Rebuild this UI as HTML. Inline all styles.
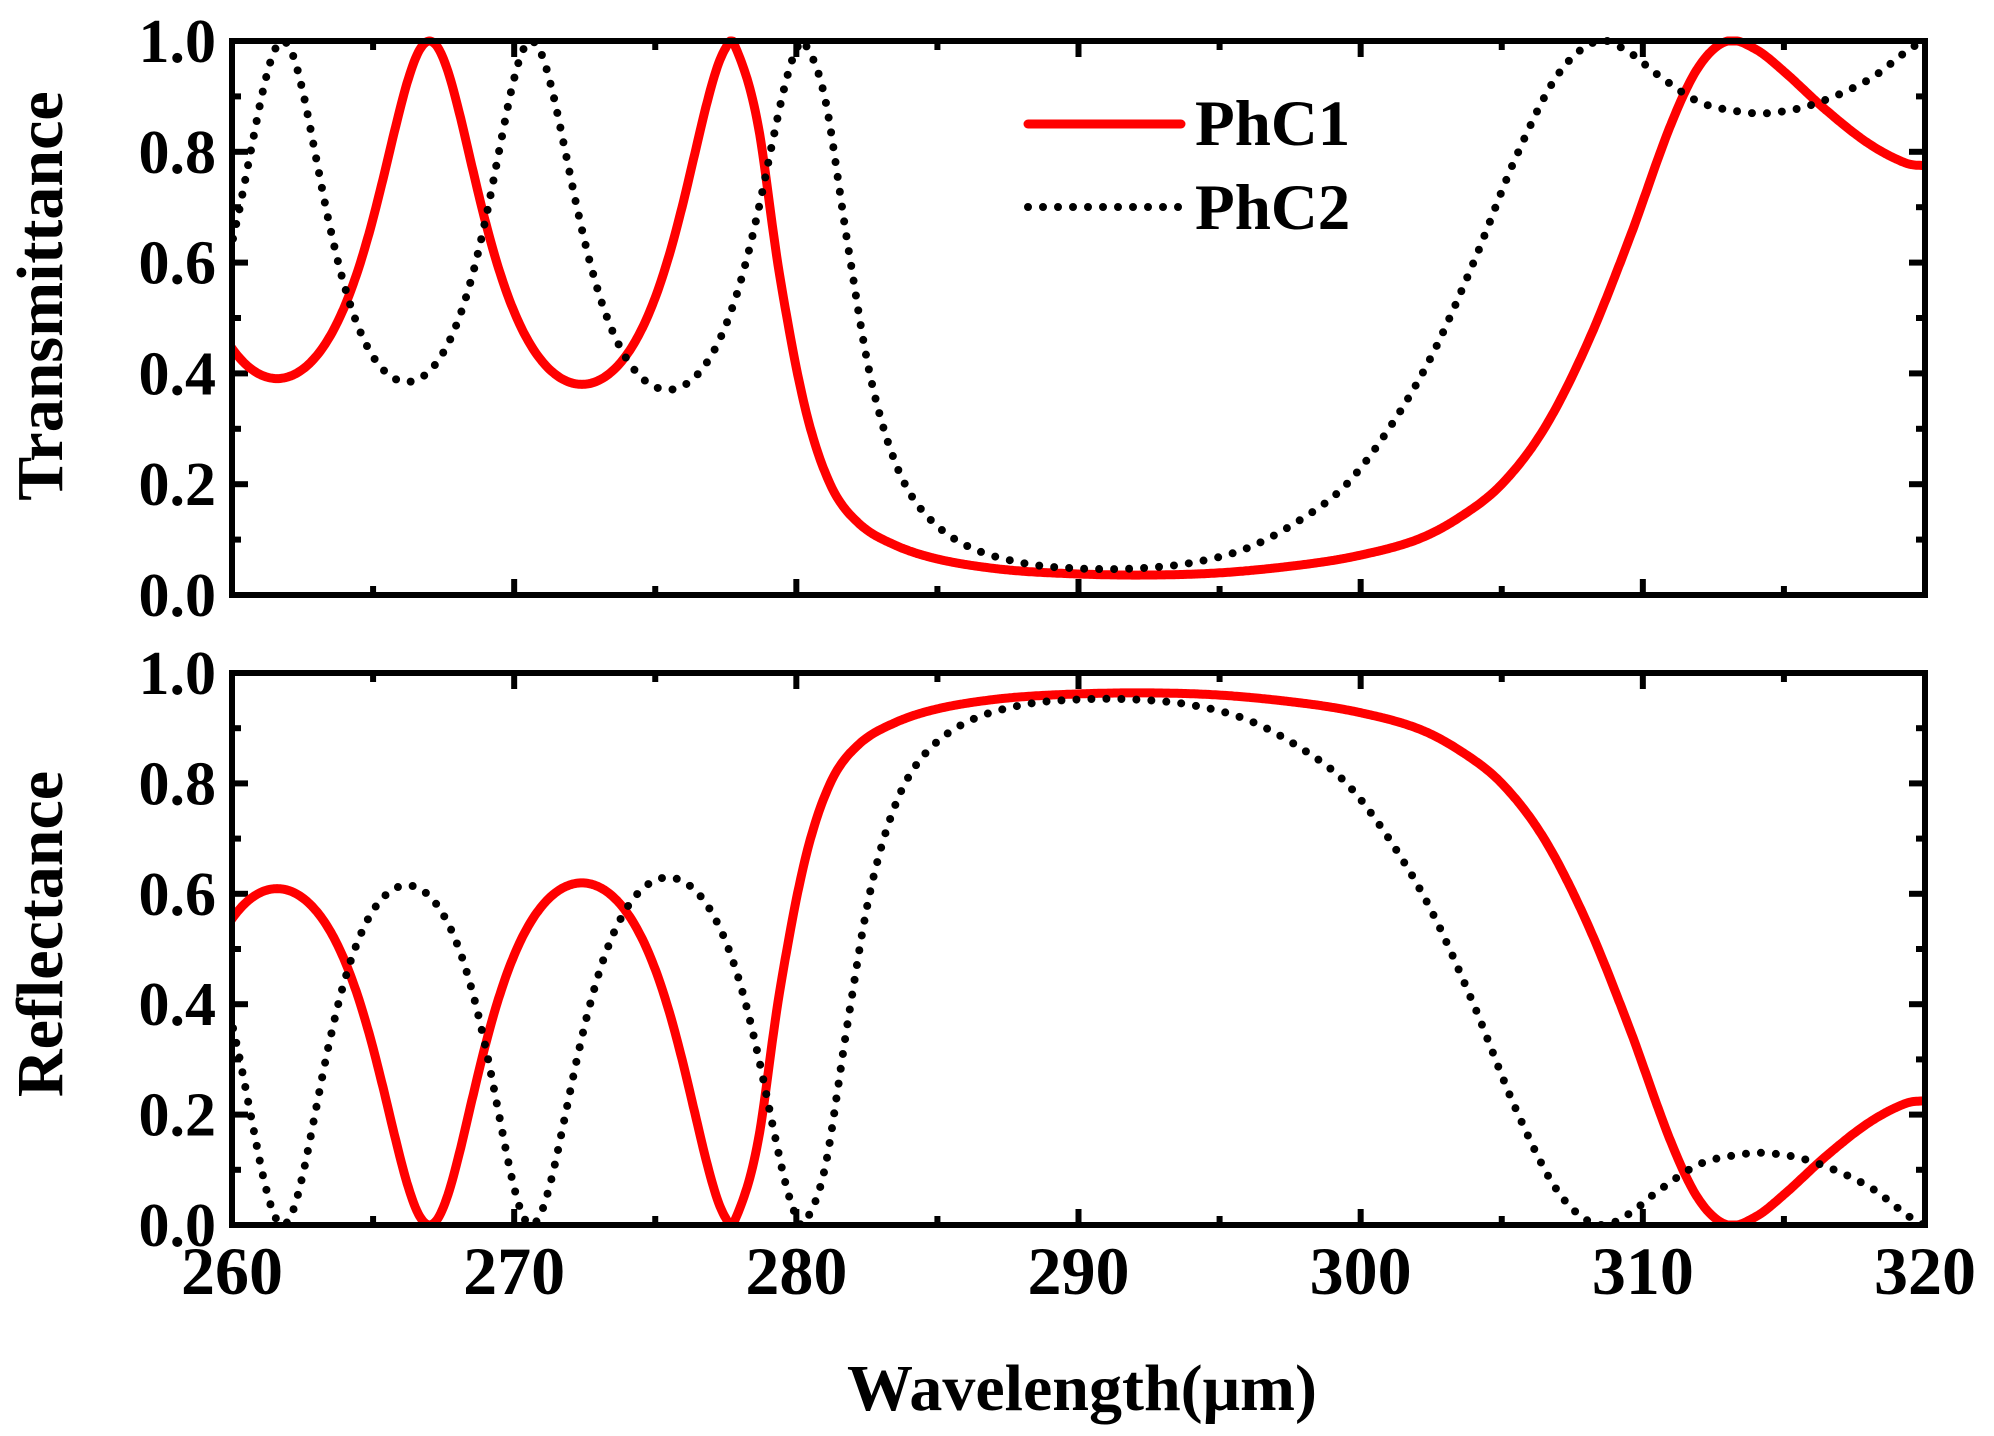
<!DOCTYPE html>
<html><head><meta charset="utf-8"><style>
html,body{margin:0;padding:0;background:#fff;}
svg{display:block;}
text{font-family:"Liberation Serif",serif;font-weight:bold;fill:#000;}
</style></head><body>
<svg id="s" width="1994" height="1436" viewBox="0 0 1994 1436" xmlns="http://www.w3.org/2000/svg">
<defs>
<clipPath id="c1"><rect x="232" y="30" width="1693" height="565"/></clipPath>
<clipPath id="c2"><rect x="232" y="662" width="1693" height="563"/></clipPath>
</defs>
<g id="g"></g>
<text x="1082" y="1410" font-size="66" text-anchor="middle">Wavelength(μm)</text>
<text transform="translate(62,296) rotate(-90)" font-size="66" text-anchor="middle">Transmittance</text>
<text transform="translate(62,934) rotate(-90)" font-size="66" text-anchor="middle">Reflectance</text>
<line x1="1028" y1="124" x2="1181" y2="124" stroke="#ff0000" stroke-width="9" stroke-linecap="round"/>
<line x1="1028" y1="207" x2="1181" y2="207" stroke="#000" stroke-width="8" stroke-linecap="round" stroke-dasharray="0 15"/>
<text x="1195" y="145" font-size="65">PhC1</text>
<text x="1195" y="229" font-size="65">PhC2</text>
</svg>
<script>
const X0=232,X1=1925;
const P=[{t:41,b:595,c:'c1'},{t:673,b:1225,c:'c2'}];
const xs=w=>X0+(w-260)/60*(X1-X0);
function airyPts(peaks,Fs,rest){
 const pts=[];const last=peaks[peaks.length-1];
 for(let w=257;w<=last+0.001;w+=0.25){
  let i=0;while(i<peaks.length-2&&w>peaks[i+1])i++;
  const a=peaks[i],b=peaks[i+1];const ph=Math.PI*(i+(w-a)/(b-a));
  const F=Fs[Math.min(i,Fs.length-1)];
  const s=Math.sin(ph);pts.push([w,1/(1+F*s*s)]);}
 return pts.concat(rest);
}
const T1=airyPts([256.2,267,277.8],[1.56,1.63],[[278.6,0.86],[279.4,0.58],[280.3,0.34],[281.2,0.2],[282.2,0.13],[283.5,0.09],[285,0.065],[287,0.048],[289,0.04],[292,0.036],[295,0.04],[298,0.055],[300,0.072],[302,0.1],[303.5,0.14],[305,0.2],[306.5,0.3],[308,0.45],[309.5,0.64],[311,0.85],[312,0.955],[313,1.0],[314,0.985],[315,0.945],[316.5,0.875],[318,0.815],[319.3,0.78],[320,0.775],[322,0.77]]);
const T2=airyPts([253,261.8,270.6,280.3],[1.6,1.6,1.7],[[281,0.9],[281.8,0.64],[282.6,0.4],[283.5,0.24],[284.5,0.15],[286,0.09],[288,0.058],[290,0.048],[292,0.048],[294,0.058],[296,0.085],[298,0.14],[299.5,0.2],[301,0.3],[302.5,0.43],[304,0.6],[305.5,0.79],[307,0.94],[308.4,1.0],[309.5,0.98],[310.5,0.94],[312,0.89],[313.5,0.872],[314.5,0.87],[316,0.885],[318,0.93],[320,1.0],[322,1.0]]);
function interp(pts,w){for(let i=1;i<pts.length-2;i++){if(w<=pts[i+1][0]){const p0=pts[i-1],p1=pts[i],p2=pts[i+1],p3=pts[i+2];const t=(w-p1[0])/(p2[0]-p1[0]);
const h=p2[0]-p1[0];const m1=(p2[1]-p0[1])/(p2[0]-p0[0])*h,m2=(p3[1]-p1[1])/(p3[0]-p1[0])*h;
const t2=t*t,t3=t2*t;let v=(2*t3-3*t2+1)*p1[1]+(t3-2*t2+t)*m1+(-2*t3+3*t2)*p2[1]+(t3-t2)*m2;return Math.max(0,Math.min(1,v));}}return pts[pts.length-2][1];}
let h='';
P.forEach((p,k)=>{
 const ys=v=>p.b-v*(p.b-p.t);
 for(let w=260;w<=320;w+=5){const x=xs(w),L=(w%10==0)?16:9;h+=`<line x1="${x}" y1="${p.b}" x2="${x}" y2="${p.b-L}" stroke="#000" stroke-width="6"/><line x1="${x}" y1="${p.t}" x2="${x}" y2="${p.t+L}" stroke="#000" stroke-width="6"/>`;}
 for(let i=0;i<=10;i++){const y=ys(i/10),L=(i%2==0)?16:9;h+=`<line x1="${X0}" y1="${y}" x2="${X0+L}" y2="${y}" stroke="#000" stroke-width="6"/><line x1="${X1}" y1="${y}" x2="${X1-L}" y2="${y}" stroke="#000" stroke-width="6"/>`;
  if(i%2==0)h+=`<text x="216" y="${y+21}" font-size="62" text-anchor="end">${(i/10).toFixed(1)}</text>`;}
 [[T1,'#ff0000','stroke-width="9"'],[T2,'#000','stroke-width="8" stroke-linecap="round" stroke-dasharray="0 15"']].forEach(([pts,col,st])=>{
  let d='';for(let w=259.5;w<=320.5;w+=0.05){let v=interp(pts,w);if(k==1)v=1-v;d+=(d?'L':'M')+xs(w).toFixed(1)+','+ys(v).toFixed(1);}
  h+=`<path d="${d}" fill="none" stroke="${col}" ${st} stroke-linejoin="round" clip-path="url(#${p.c})"/>`;});
 h+=`<rect x="${X0}" y="${p.t}" width="${X1-X0}" height="${p.b-p.t}" fill="none" stroke="#000" stroke-width="6"/>`;
});
for(let w=260;w<=320;w+=10)h+=`<text x="${xs(w)}" y="1294" font-size="68" text-anchor="middle">${w}</text>`;
document.getElementById('g').innerHTML=h;
</script>
</body></html>
